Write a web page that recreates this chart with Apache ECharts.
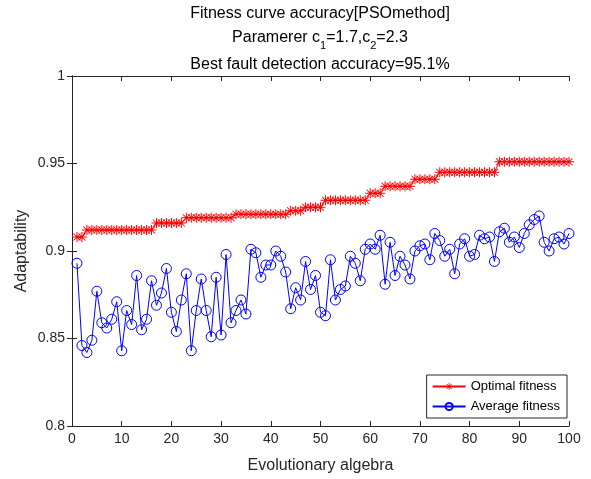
<!DOCTYPE html>
<html>
<head>
<meta charset="utf-8">
<script src="https://cdn.jsdelivr.net/npm/echarts@6/dist/echarts.min.js"></script>
<style>
  html, body { margin: 0; padding: 0; background: #fff; }
  #chart { width: 591px; height: 479px; }
</style>
</head>
<body>
<div id="chart"></div>
<script>
// Generation numbers on the x axis
var generations = [];
for (var g = 1; g <= 100; g++) generations.push(g);

// Best fitness found so far in each generation
var optimalFitness = [
  0.908, 0.908, 0.912, 0.912, 0.912, 0.912, 0.912, 0.912, 0.912, 0.912,
  0.912, 0.912, 0.912, 0.912, 0.912, 0.912, 0.916, 0.916, 0.916, 0.916,
  0.916, 0.916, 0.919, 0.919, 0.919, 0.919, 0.919, 0.919, 0.919, 0.919,
  0.919, 0.919, 0.921, 0.921, 0.921, 0.921, 0.921, 0.921, 0.921, 0.921,
  0.921, 0.921, 0.921, 0.923, 0.923, 0.923, 0.925, 0.925, 0.925, 0.925,
  0.929, 0.929, 0.929, 0.929, 0.929, 0.929, 0.929, 0.929, 0.929, 0.933,
  0.933, 0.933, 0.937, 0.937, 0.937, 0.937, 0.937, 0.937, 0.941, 0.941,
  0.941, 0.941, 0.941, 0.945, 0.945, 0.945, 0.945, 0.945, 0.945, 0.945,
  0.945, 0.945, 0.945, 0.945, 0.945, 0.951, 0.951, 0.951, 0.951, 0.951,
  0.951, 0.951, 0.951, 0.951, 0.951, 0.951, 0.951, 0.951, 0.951, 0.951
];

// Mean fitness of the swarm in each generation
var averageFitness = [
  0.893, 0.846, 0.842, 0.849, 0.877, 0.859, 0.856, 0.861, 0.871, 0.843,
  0.866, 0.858, 0.886, 0.855, 0.861, 0.883, 0.869, 0.876, 0.890, 0.865,
  0.854, 0.872, 0.887, 0.843, 0.866, 0.884, 0.866, 0.851, 0.885, 0.852,
  0.898, 0.859, 0.866, 0.872, 0.864, 0.901, 0.899, 0.885, 0.892, 0.892,
  0.900, 0.897, 0.888, 0.867, 0.879, 0.872, 0.894, 0.878, 0.886, 0.865,
  0.863, 0.895, 0.872, 0.878, 0.880, 0.897, 0.893, 0.883, 0.901, 0.904,
  0.901, 0.909, 0.881, 0.905, 0.886, 0.897, 0.892, 0.884, 0.900, 0.903,
  0.904, 0.895, 0.910, 0.906, 0.897, 0.901, 0.887, 0.904, 0.907, 0.897,
  0.898, 0.909, 0.907, 0.908, 0.894, 0.911, 0.913, 0.905, 0.908, 0.902,
  0.910, 0.915, 0.918, 0.920, 0.905, 0.900, 0.907, 0.908, 0.904, 0.910
];

var xTicks = { min: 0, max: 100, interval: 10 };
var yTicks = { min: 0.8, max: 1, interval: 0.05 };

var seriesNames = ['Optimal fitness', 'Average fitness'];

function pairs(xs, ys) {
  return xs.map(function (x, i) { return [x, ys[i]]; });
}

// Asterisk marker made of four thin bars (+ and x)
var asterisk = 'path://M0 9L20 9L20 11L0 11Z' +
  'M9 0L11 0L11 20L9 20Z' +
  'M3.7 2.3L17.7 16.3L16.3 17.7L2.3 3.7Z' +
  'M17.7 3.7L3.7 17.7L2.3 16.3L16.3 2.3Z';

var FONT = '"Liberation Sans", Arial, Helvetica, sans-serif';
var INK = '#262626';
var TITLE_X = 320;

var chart = echarts.init(document.getElementById('chart'), null, { renderer: 'canvas' });

var axisLine = { show: true, lineStyle: { color: INK, width: 1 } };
var axisTick = { show: true, inside: true, length: 5, lineStyle: { color: INK, width: 1 } };

chart.setOption({
  backgroundColor: '#ffffff',
  animation: false,
  textStyle: { fontFamily: FONT },
  grid: { left: 72, right: 22, top: 76, bottom: 52, containLabel: false },
  graphic: [
    {
      type: 'text', x: TITLE_X, y: 6,
      style: { text: 'Fitness curve accuracy[PSOmethod]', font: '16px ' + FONT, fill: '#000', textAlign: 'center' }
    },
    {
      type: 'text', x: TITLE_X, y: 26,
      style: {
        text: '{a|Paramerer c}{s|1}{a|=1.7,c}{s|2}{a|=2.3}',
        fill: '#000',
        textAlign: 'center',
        rich: {
          a: { fontFamily: FONT, fontSize: 16, fill: '#000', verticalAlign: 'bottom', lineHeight: 20 },
          s: { fontFamily: FONT, fontSize: 11, fill: '#000', verticalAlign: 'bottom', lineHeight: 20, padding: [0, 0, -5, 0] }
        }
      }
    },
    {
      type: 'text', x: TITLE_X, y: 57,
      style: { text: 'Best fault detection accuracy=95.1%', font: '16px ' + FONT, fill: '#000', textAlign: 'center' }
    }
  ],
  legend: {
    orient: 'vertical',
    right: 24,
    top: 375,
    data: seriesNames,
    backgroundColor: '#fff',
    borderColor: INK,
    borderWidth: 1,
    borderRadius: 0,
    padding: [5, 7, 5, 5],
    itemWidth: 33,
    itemHeight: 9,
    itemGap: 7,
    textStyle: { fontFamily: FONT, fontSize: 13, color: '#000' }
  },
  xAxis: [
    {
      type: 'value', min: xTicks.min, max: xTicks.max, interval: xTicks.interval,
      name: 'Evolutionary algebra', nameLocation: 'middle', nameGap: 32, nameMoveOverlap: false,
      nameTextStyle: { fontFamily: FONT, fontSize: 16, color: INK },
      axisLine: axisLine, axisTick: axisTick,
      axisLabel: { color: INK, fontFamily: FONT, fontSize: 14, margin: 6 },
      splitLine: { show: false }
    },
    {
      type: 'value', position: 'top', min: xTicks.min, max: xTicks.max, interval: xTicks.interval,
      axisLine: axisLine, axisTick: axisTick, axisLabel: { show: false }, splitLine: { show: false }
    }
  ],
  yAxis: [
    {
      type: 'value', min: yTicks.min, max: yTicks.max, interval: yTicks.interval,
      name: 'Adaptability', nameLocation: 'middle', nameGap: 42, nameRotate: 90, nameMoveOverlap: false,
      nameTextStyle: { fontFamily: FONT, fontSize: 16, color: INK },
      axisLine: axisLine, axisTick: axisTick,
      axisLabel: { color: INK, fontFamily: FONT, fontSize: 14, margin: 7 },
      splitLine: { show: false }
    },
    {
      type: 'value', position: 'right', min: yTicks.min, max: yTicks.max, interval: yTicks.interval,
      axisLine: axisLine, axisTick: axisTick, axisLabel: { show: false }, splitLine: { show: false }
    }
  ],
  series: [
    {
      name: seriesNames[0],
      type: 'line',
      data: pairs(generations, optimalFitness),
      symbol: asterisk,
      symbolSize: 10,
      showAllSymbol: true,
      lineStyle: { color: '#ff0000', width: 1 },
      itemStyle: { color: '#ff0000' },
      z: 3
    },
    {
      name: seriesNames[1],
      type: 'line',
      data: pairs(generations, averageFitness),
      symbol: 'circle',
      symbolSize: 10,
      showAllSymbol: true,
      lineStyle: { color: '#0000ff', width: 1 },
      itemStyle: { color: 'rgba(0,0,255,0)', borderColor: '#0000ff', borderWidth: 1 },
      z: 2
    }
  ]
});
</script>
</body>
</html>
